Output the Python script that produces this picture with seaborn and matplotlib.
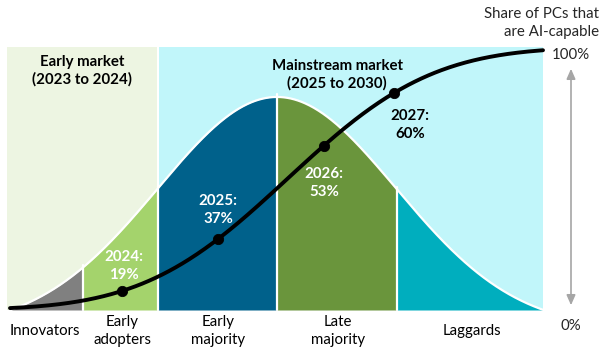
import math
import numpy as np
import pandas as pd
import matplotlib
matplotlib.use("Agg")
import matplotlib.pyplot as plt
import seaborn as sns

# ---------------- data ----------------
segments = ["Innovators", "Early\nadopters", "Early\nmajority", "Late\nmajority", "Laggards"]
seg_edges = [-2.24, -1.63, -1.0, 0.0, 1.01, 2.24]          # in std-dev units
seg_colors = ["#808080", "#A4D36C", "#00618B", "#6A953C", "#00AEBE"]
markets = ["Early market\n(2023 to 2024)", "Mainstream market\n(2025 to 2030)"]
market_edges = [-2.27, -1.0, 2.235]
market_colors = ["#EDF5E2", "#C1F6FA"]
years = [2024, 2025, 2026, 2027]
shares = [19, 37, 53, 60]
point_z = [-1.303, -0.496, 0.395, 0.983]
label_colors = ["white", "white", "white", "black"]
axis_ticks = ["0%", "100%"]

# ---------------- layout helpers (pixel -> data) ----------------
W, H = 607, 357
X0, SX = 277.0, 119.0
Y0, SY = 310.0, 263.0
def X(px): return (px - X0) / SX
def Y(py): return (Y0 - py) / SY

sns.set_theme(style="white")
plt.rcParams["font.family"] = ["Lato", "DejaVu Sans"]

fig = plt.figure(figsize=(W / 100, H / 100), dpi=100)
ax = fig.add_axes([0, 0, 1, 1])
ax.set_xlim(X(0), X(W))
ax.set_ylim(Y(H), Y(0))
ax.axis("off")

FS = 10.8
LS = 1.3

# backgrounds
for i in range(2):
    x0 = market_edges[i] + (0.008 if i == 1 else 0)
    x1 = market_edges[i + 1] - (0.008 if i == 0 else 0)
    ax.fill_between([x0, x1], 0, 1.0, color=market_colors[i], lw=0, zorder=0)

# bell curve
PEAK = 0.81
c = math.exp(-2.24 ** 2 / 2)
def bell(z):
    return PEAK * (np.exp(-np.asarray(z) ** 2 / 2) - c) / (1 - c)

for i in range(5):
    zz = np.linspace(seg_edges[i], seg_edges[i + 1], 200)
    ax.fill_between(zz, 0, bell(zz), color=seg_colors[i], lw=0, zorder=1)
zz = np.linspace(seg_edges[0], seg_edges[-1], 600)
ax.plot(zz, bell(zz), color="white", lw=1.6, zorder=2)
for e in seg_edges[1:-1]:
    ax.plot([e, e], [0, bell(e) + 0.01], color="white", lw=1.6, zorder=2)

# S-curve
def scurve(z):
    return np.array([0.5 * (1 + math.erf(((v - 0.09) / 0.955) / math.sqrt(2))) for v in np.atleast_1d(z)])

zs = np.linspace(X(10), X(543), 400)
df_line = pd.DataFrame({"z": zs, "share": scurve(zs)})
sns.lineplot(data=df_line, x="z", y="share", color="black", lw=2.8, ax=ax, zorder=3)
df_pts = pd.DataFrame({"z": point_z, "share": scurve(point_z)})
sns.scatterplot(data=df_pts, x="z", y="share", color="black", s=55, ax=ax, zorder=4, edgecolor="black")

# point labels
label_pos = [(124, 266), (218, 210), (324, 183), (410, 125)]
for (px, py), yr, sh, col in zip(label_pos, years, shares, label_colors):
    ax.text(X(px), Y(py), f"{yr}:\n{sh}%", ha="center", va="center", fontsize=FS,
            fontweight="bold", color=col, linespacing=LS, zorder=5)

# market titles
ax.text(X(82), Y(71), markets[0], ha="center", va="center", fontsize=FS,
        fontweight="bold", color="black", linespacing=LS, zorder=5)
ax.text(X(337), Y(75), markets[1], ha="center", va="center", fontsize=FS,
        fontweight="bold", color="black", linespacing=LS, zorder=5)

# category labels
cat_x = [45, 122, 218, 338, 472]
for px, name in zip(cat_x, segments):
    ax.text(X(px), Y(331), name, ha="center", va="center", fontsize=FS,
            color="black", linespacing=LS, zorder=5)

# right axis
ax.annotate("", xy=(X(571), Y(66)), xytext=(X(571), Y(308)),
            arrowprops=dict(arrowstyle="<|-|>,head_length=0.5,head_width=0.22",
                            color="#A6A6A6", lw=1.2))
ax.text(X(571), Y(326), axis_ticks[0], ha="center", va="center", fontsize=FS)
ax.text(X(571), Y(55), axis_ticks[1], ha="center", va="center", fontsize=FS)
ax.text(X(599), Y(23), "Share of PCs that\nare AI-capable", ha="right", va="center",
        fontsize=FS, linespacing=LS)

fig.savefig("out.png", dpi=100)
